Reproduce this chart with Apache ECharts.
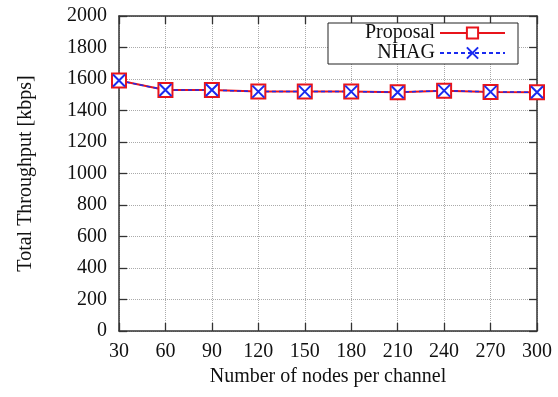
<!DOCTYPE html>
<html>
<head>
<meta charset="utf-8">
<script src="https://cdn.jsdelivr.net/npm/echarts@6/dist/echarts.min.js"></script>
<style>
  html, body { margin: 0; padding: 0; background: #fff; }
  #chart { width: 558px; height: 397px; }
</style>
</head>
<body>
<div id="chart"></div>
<script>
const nodes = [30, 60, 90, 120, 150, 180, 210, 240, 270, 300];
const proposal = [1590, 1530, 1530, 1520, 1520, 1520, 1516, 1526, 1518, 1516];
const nhag = [1590, 1530, 1530, 1520, 1520, 1520, 1516, 1526, 1518, 1516];

const chart = echarts.init(document.getElementById('chart'), null, { renderer: 'canvas' });
const font = 'Liberation Serif';
const axisColor = '#333';
const xMark = 'path://M0,0L10,10M10,0L0,10';

function tick() {
  return { show: true, inside: true, length: 8, lineStyle: { color: axisColor, width: 1.3 } };
}

function pairs(ys) {
  return nodes.map((x, i) => [x, ys[i]]);
}

// mirrored axes on top / right only carry inward ticks
function mirror(kind, pos) {
  const ax = {
    type: 'value', position: pos,
    axisLine: { show: true, onZero: false, lineStyle: { color: axisColor, width: 1.5 } },
    axisTick: tick(),
    axisLabel: { show: false },
    splitLine: { show: false }
  };
  if (kind === 'x') Object.assign(ax, { min: 30, max: 300, interval: 30 });
  else Object.assign(ax, { min: 0, max: 2000, interval: 200 });
  return ax;
}

const option = {
  animation: false,
  textStyle: { fontFamily: font },
  grid: { left: 119, right: 21, top: 16, bottom: 66 },
  legend: {
    right: 40,
    top: 23,
    orient: 'vertical',
    align: 'right',
    itemWidth: 65,
    itemHeight: 14,
    itemGap: 0,
    padding: [0, 12, 1, 37],
    borderColor: '#222',
    borderWidth: 1,
    backgroundColor: '#fff',
    textStyle: { fontFamily: font, fontSize: 20, color: '#111', lineHeight: 20 },
    data: ['Proposal', 'NHAG']
  },
  xAxis: [
    {
      type: 'value', min: 30, max: 300, interval: 30,
      name: 'Number of nodes per channel',
      nameLocation: 'middle', nameGap: 32,
      nameTextStyle: { fontFamily: font, fontSize: 20, color: '#111' },
      axisLine: { onZero: false, lineStyle: { color: axisColor, width: 1.5 } },
      axisTick: tick(),
      axisLabel: { fontFamily: font, fontSize: 20, color: '#111', margin: 11 },
      splitLine: { show: true, lineStyle: { type: 'dotted', color: '#aaa' } }
    },
    mirror('x', 'top')
  ],
  yAxis: [
    {
      type: 'value', min: 0, max: 2000, interval: 200,
      name: 'Total Throughput [kbps]',
      nameLocation: 'middle', nameGap: 83, nameRotate: 90,
      nameTextStyle: { fontFamily: font, fontSize: 20, color: '#111' },
      axisLine: { show: true, onZero: false, lineStyle: { color: axisColor, width: 1.5 } },
      axisTick: tick(),
      axisLabel: { fontFamily: font, fontSize: 20, color: '#111', margin: 12, formatter: v => String(v) },
      splitLine: { show: true, lineStyle: { type: 'dotted', color: '#aaa' } }
    },
    mirror('y', 'right')
  ],
  series: [
    {
      name: 'Proposal',
      type: 'line',
      data: pairs(proposal),
      symbol: 'rect',
      symbolSize: 14,
      lineStyle: { color: '#e8141b', width: 2 },
      itemStyle: { color: '#fff', borderColor: '#e8141b', borderWidth: 2 }
    },
    {
      name: 'NHAG',
      type: 'line',
      data: pairs(nhag),
      symbol: xMark,
      symbolSize: 12,
      lineStyle: { color: '#1a2bf0', width: 1.5, type: [4, 3] },
      itemStyle: { color: 'none', borderColor: '#1a2bf0', borderWidth: 2 }
    }
  ]
};

chart.setOption(option);
</script>
</body>
</html>
